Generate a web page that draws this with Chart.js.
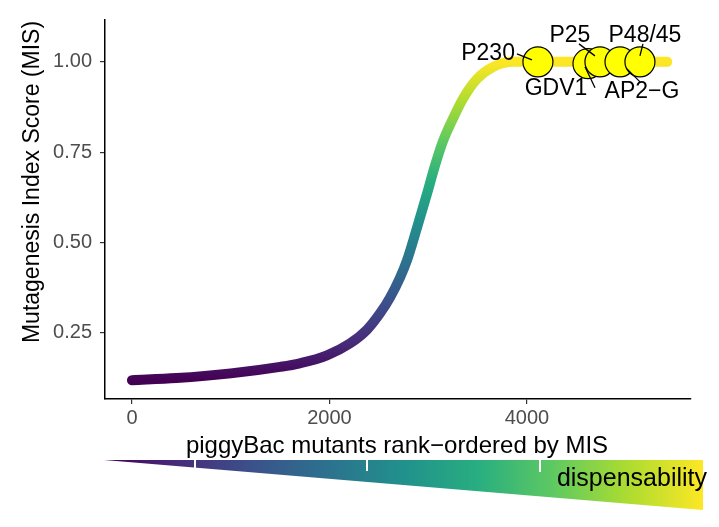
<!DOCTYPE html>
<html>
<head>
<meta charset="utf-8">
<script src="https://cdn.jsdelivr.net/npm/chart.js@4"></script>
<style>
  html, body { margin: 0; padding: 0; background: #fff; }
</style>
</head>
<body>
<canvas id="misChart" width="719" height="527"></canvas>
<script>
// rank of piggyBac mutant vs. mutagenesis index score
const rankX = [0, 450, 1000, 1500, 1700, 1975, 2208, 2380, 2511, 2613, 2714, 2785, 2886, 2987, 3068, 3149, 3251, 3352, 3494, 3656, 3858, 4300, 5420];
const misY = [0.118, 0.124, 0.137, 0.155, 0.165, 0.187, 0.22, 0.258, 0.303, 0.347, 0.402, 0.45, 0.54, 0.634, 0.712, 0.78, 0.843, 0.898, 0.953, 0.986, 1.0, 1.0, 1.0];

// highlighted genes
const geneNames = ['P230', 'GDV1', 'P25', 'AP2\u2212G', 'P48/45'];
const geneRank = [4111, 4618, 4739, 4942, 5144];
const geneMIS = [1.0, 0.995, 1.0, 1.0, 1.0];

const xTicks = [0, 2000, 4000];
const yTicks = [0.25, 0.5, 0.75, 1.0];

const viridis = ['#440154', '#472d7b', '#3b528b', '#2c728e', '#21918c', '#28ae80', '#5ec962', '#addc30', '#fde725'];
const FONT = '"Liberation Sans", Arial, Helvetica, sans-serif';

function viridisGradient(ctx, x0, y0, x1, y1) {
    const g = ctx.createLinearGradient(x0, y0, x1, y1);
    viridis.forEach((c, i) => g.addColorStop(i / (viridis.length - 1), c));
    return g;
}

// label offsets (px) relative to circle centre: text pos + leader segment
const labelStyle = {
    'P230':        { dx: -23, dy: -8, align: 'right', seg: [-21, -8, -6, -2] },
    'GDV1':        { dx: -32, dy: 25, align: 'center', seg: [7, 24, -3, 3] },
    'P25':         { dx: -30, dy: -26, align: 'center', seg: [-21, -18, -5, -6] },
    'AP2\u2212G':  { dx: 22, dy: 30, align: 'center', seg: [20, 20, 7, 7] },
    'P48/45':      { dx: 5, dy: -26, align: 'center', seg: [3, -18, 0, -6] }
};

const geneLabels = {
    id: 'geneLabels',
    afterDatasetsDraw(chart) {
        const { ctx, scales } = chart;
        ctx.save();
        ctx.strokeStyle = '#000';
        ctx.lineWidth = 1.3;
        ctx.fillStyle = '#000';
        ctx.font = '23px ' + FONT;
        ctx.textBaseline = 'middle';
        geneNames.forEach((name, i) => {
            const cx = scales.x.getPixelForValue(geneRank[i]);
            const cy = scales.y.getPixelForValue(geneMIS[i]);
            const s = labelStyle[name];
            ctx.beginPath();
            ctx.moveTo(cx + s.seg[0], cy + s.seg[1]);
            ctx.lineTo(cx + s.seg[2], cy + s.seg[3]);
            ctx.stroke();
            ctx.textAlign = s.align;
            ctx.fillText(name, cx + s.dx, cy + s.dy);
        });
        ctx.restore();
    }
};

// axis titles + the dispensability wedge underneath
const extras = {
    id: 'extras',
    afterDraw(chart) {
        const { ctx } = chart;
        ctx.save();
        ctx.fillStyle = '#000';
        ctx.font = '24px ' + FONT;
        ctx.textAlign = 'center';
        ctx.textBaseline = 'middle';
        ctx.fillText('piggyBac mutants rank\u2212ordered by MIS', 397, 446);

        ctx.font = '23px ' + FONT;
        ctx.save();
        ctx.translate(33, 182);
        ctx.rotate(-Math.PI / 2);
        ctx.fillText('Mutagenesis Index Score (MIS)', 0, 0);
        ctx.restore();

        // wedge
        ctx.beginPath();
        ctx.moveTo(104, 460);
        ctx.lineTo(703, 460);
        ctx.lineTo(703, 510);
        ctx.closePath();
        ctx.fillStyle = viridisGradient(ctx, 104, 0, 703, 0);
        ctx.fill();

        ctx.strokeStyle = '#fff';
        ctx.lineWidth = 2;
        [[195, 469], [367, 471], [540, 472]].forEach(([x, y2]) => {
            ctx.beginPath();
            ctx.moveTo(x, 460);
            ctx.lineTo(x, y2);
            ctx.stroke();
        });

        ctx.fillStyle = '#000';
        ctx.font = '25px ' + FONT;
        ctx.textAlign = 'right';
        ctx.textBaseline = 'alphabetic';
        ctx.fillText('dispensability', 707, 486);
        ctx.restore();
    }
};

const ctx = document.getElementById('misChart').getContext('2d');
const misChart = new Chart(ctx, {
    type: 'scatter',
    data: {
        datasets: [{
            type: 'line',
            data: rankX.map((x, i) => ({ x: x, y: misY[i] })),
            borderWidth: 10,
            borderCapStyle: 'round',
            borderJoinStyle: 'round',
            pointRadius: 0,
            cubicInterpolationMode: 'monotone',
            fill: false,
            borderColor: (c) => {
                const chart = c.chart;
                if (!chart.chartArea) return viridis[0];
                const y = chart.scales.y;
                return viridisGradient(chart.ctx, 0, y.getPixelForValue(Math.min(...misY)), 0, y.getPixelForValue(1));
            },
            order: 2
        }, {
            data: geneRank.map((x, i) => ({ x: x, y: geneMIS[i] })),
            pointRadius: 15,
            pointHoverRadius: 15,
            backgroundColor: '#ffff00',
            borderColor: '#000',
            borderWidth: 1.2,
            order: 1
        }]
    },
    options: {
        responsive: false,
        animation: false,
        devicePixelRatio: 1,
        layout: { padding: { top: 18, right: 28, left: 0, bottom: 0 } },
        plugins: {
            legend: { display: false },
            tooltip: { enabled: false }
        },
        scales: {
            x: {
                type: 'linear',
                min: -273,
                max: 5661,
                afterBuildTicks: (s) => { s.ticks = xTicks.map(v => ({ value: v })); },
                afterFit: (s) => { s.height = 128; },
                grid: { drawOnChartArea: false, drawTicks: true, tickLength: 5, color: '#333', lineWidth: 1.2 },
                border: { display: true, color: '#000', width: 1.5 },
                ticks: { color: '#4d4d4d', font: { family: FONT, size: 20 }, padding: 2, callback: (v) => String(v) }
            },
            y: {
                type: 'linear',
                min: 0.066,
                max: 1.116,
                afterBuildTicks: (s) => { s.ticks = yTicks.map(v => ({ value: v })); },
                afterFit: (s) => { s.width = 105; },
                grid: { drawOnChartArea: false, drawTicks: true, tickLength: 5, color: '#333', lineWidth: 1.2 },
                border: { display: true, color: '#000', width: 1.5 },
                ticks: { color: '#4d4d4d', font: { family: FONT, size: 20 }, padding: 8, callback: (v) => v.toFixed(2) }
            }
        }
    },
    plugins: [geneLabels, extras]
});
</script>
</body>
</html>
